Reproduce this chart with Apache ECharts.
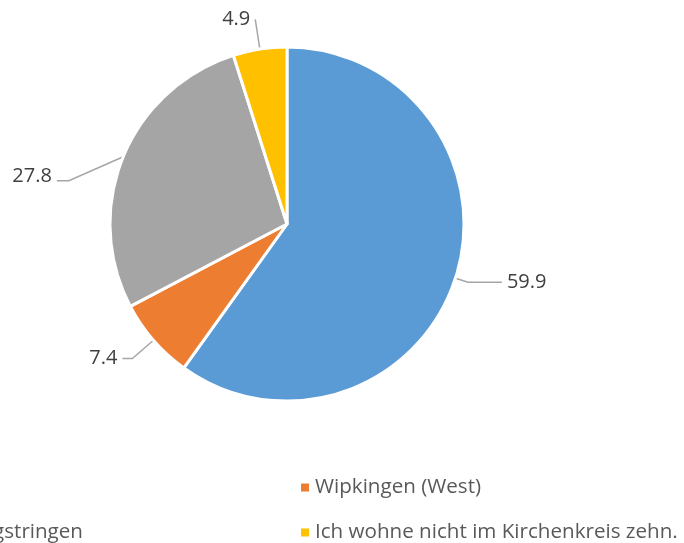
<!DOCTYPE html>
<html>
<head>
<meta charset="utf-8">
<script src="https://cdn.jsdelivr.net/npm/echarts@6/dist/echarts.min.js"></script>
<style>
  html, body { margin: 0; padding: 0; background: #fff; }
  #chart { width: 684px; height: 543px; }
</style>
</head>
<body>
<div id="chart"></div>
<script>
var categories = ['Höngg', 'Wipkingen (West)', 'Höngg und Hönggstringen', 'Ich wohne nicht im Kirchenkreis zehn.'];
var shares = [59.9, 7.4, 27.8, 4.9];
var colors = ['#5B9BD5', '#ED7D31', '#A5A5A5', '#FFC000'];

// leader line lengths per slice [radial, horizontal]
var leaderLines = [[13, 34], [28, 10], [8, 50], [30, 0]];

var font = '"Open Sans", sans-serif';
var legendSize = 20.6;

// left legend column is cut by the picture edge; only the end of the grey name shows
function textWidth(txt) {
	var ctx = document.createElement('canvas').getContext('2d');
	ctx.font = legendSize + 'px "Open Sans"';
	return ctx.measureText(txt).width;
}

function init() {
	var leftColX = 82 - textWidth(categories[2]) - 10 - 5;
	var chart = echarts.init(document.getElementById('chart'));
	var legendText = { fontFamily: font, fontSize: legendSize, color: '#595959' };
	var legendBase = {
		orient: 'vertical',
		top: 477,
		height: 120,
		padding: 0,
		itemWidth: 10,
		itemHeight: 10,
		itemGap: 24,
		icon: 'rect',
		textStyle: legendText
	};
	var option = {
		color: colors,
		animation: false,
		legend: [
			Object.assign({ data: [categories[1], categories[3]], left: 299 }, legendBase),
			Object.assign({ data: [categories[0], categories[2]], left: leftColX }, legendBase)
		],
		series: [{
			type: 'pie',
			center: [287, 224],
			radius: [0, 177],
			startAngle: 90,
			clockwise: true,
			itemStyle: {
				borderColor: '#fff',
				borderWidth: 3
			},
			label: {
				show: true,
				position: 'outside',
				fontFamily: font,
				fontSize: 20,
				color: '#404040',
				formatter: function (p) { return p.value.toFixed(1); }
			},
			labelLine: {
				show: true,
				lineStyle: { color: '#A6A6A6', width: 1.5 }
			},
			// the grey label sits lower than the radial leader would put it
			labelLayout: function (p) {
				if (p.dataIndex !== 2 || !p.labelLinePoints) return;
				var dx = -9, dy = 23;
				var pts = p.labelLinePoints;
				var end = [pts[2][0] + dx, pts[2][1] + dy + 4];
				var mid = [end[0] + 12, end[1]];
				return { dx: dx, dy: dy, labelLinePoints: [pts[0], mid, end] };
			},
			data: categories.map(function (c, i) {
				return {
					name: c,
					value: shares[i],
					labelLine: { length: leaderLines[i][0], length2: leaderLines[i][1] }
				};
			})
		}]
	};
	chart.setOption(option);
}
if (document.fonts && document.fonts.load) {
	document.fonts.load(legendSize + 'px "Open Sans"').then(init, init);
} else {
	init();
}
</script>
</body>
</html>
